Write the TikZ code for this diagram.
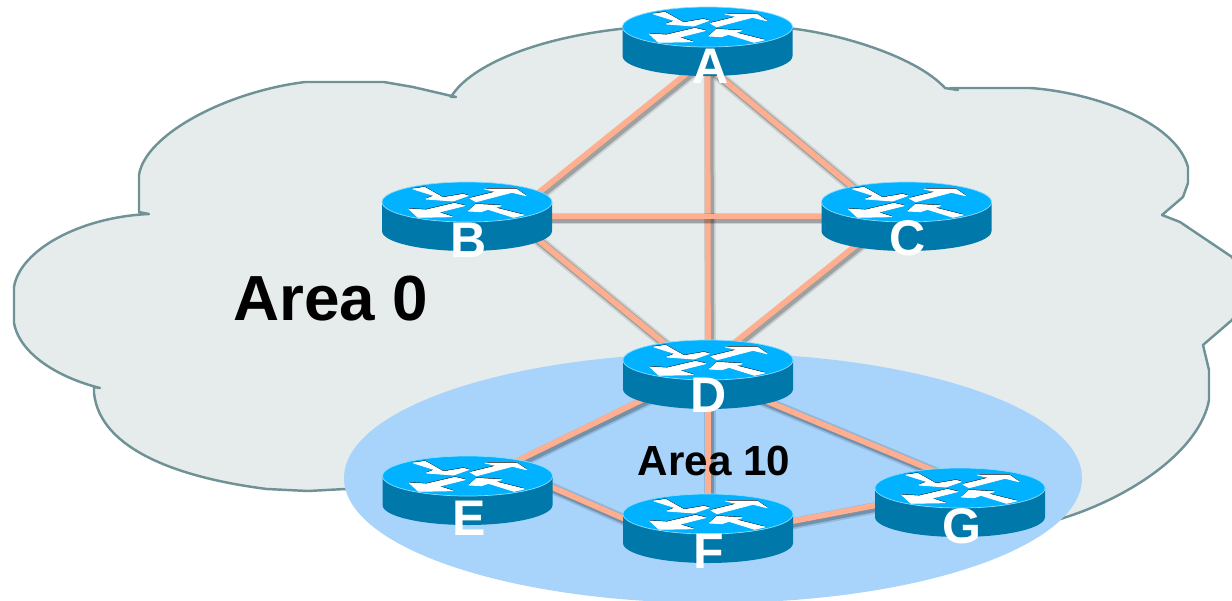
\documentclass[tikz,border=0pt]{standalone}
\usepackage{fontspec}
\setmainfont{Liberation Sans}
\usetikzlibrary{positioning}

\definecolor{cloudfill}{HTML}{E6ECEC}
\definecolor{cloudline}{HTML}{6F9296}
\definecolor{areablue}{HTML}{A8D4FC}
\definecolor{routertopcol}{HTML}{00B2FF}
\definecolor{routerside}{HTML}{0078AA}
\definecolor{linkcol}{HTML}{FFAF8F}

\newcommand{\routerarrows}{
	(-54,-13) -- (-42.5,-14.7) -- (-24,-4.3) -- (-4,-7.7) -- (1,-6.3) -- (-14,-1) -- (-41,-3) -- (-32.5,-6.3) -- cycle
	(3,-3.7) -- (30,-10.3) -- (17.5,-13) -- (49,-13) -- (59,-6.3) -- (45,-9.7) -- (9,-.3) -- cycle
	(-58,7) -- (-41,8) -- (-12.5,1.3) -- (-2.5,3.7) -- (-29,10.3) -- (-15,14.7) -- (-49,15.3) -- cycle
	(1.5,9) -- (9,2.3) -- (34,3.7) -- (27.5,5.7) -- (56.5,13) -- (46.5,15.3) -- (21,7.3) -- (14,9.7) -- cycle
}

\tikzset{
	routerbox/.style={rectangle,minimum width=3.4cm,minimum height=1.38cm,inner sep=0pt},
	routerlabel/.style={text=white,font=\fontsize{28.5}{30}\selectfont\bfseries,inner sep=0pt},
	link/.style={draw=linkcol,line width=3.2pt,shorten <=-16pt,shorten >=-16pt,
		preaction={draw=black,opacity=.12,line width=6.5pt,transform canvas={shift={(1.2pt,-1.2pt)}}},
		preaction={draw=black,opacity=.22,line width=4.5pt,transform canvas={shift={(1.2pt,-1.2pt)}}}},
	routerbody/.pic={
		\begin{scope}[shift={(0,-14.5)}]
			\fill[routerside] (-85,0) -- (-85,29) arc[start angle=180,end angle=0,x radius=85,y radius=20] -- (85,0) -- cycle;
			\draw[fill=routertopcol,draw=routertopcol!45!white,line width=.4pt] (0,0) ellipse [x radius=85,y radius=20];
			\fill[black,shift={(0,-.9)}] \routerarrows;
			\filldraw[white,line width=.5pt,line join=round] \routerarrows;
		\end{scope}
	}
}

\begin{document}
\begin{tikzpicture}[x=.02cm,y=-.02cm]
	\useasboundingbox (0,0) rectangle (1232,600);
	\clip (0,0) rectangle (1232,600);

	%cloud
	\draw[fill=cloudfill,draw=cloudline,line width=1.4pt,line join=round]
		(14,323) -- (14,287)
		.. controls (20,250) and (80,217) .. (149,214)
		-- (139,212) -- (139,175)
		.. controls (145,135) and (225,92) .. (305,82)
		-- (384,82) -- (413,87) -- (456,97) -- (451,97)
		.. controls (470,65) and (540,35) .. (640,27)
		-- (775,27)
		.. controls (830,30) and (915,55) .. (945,88)
		-- (958,90) -- (950,88) -- (1030,88)
		.. controls (1090,92) and (1175,120) .. (1188,167)
		-- (1188,183) -- (1183,197) -- (1162,215) -- (1180,222)
		-- (1232,257) -- (1250,290) -- (1232,320) -- (1203,345)
		-- (1209,370) -- (1209,400)
		.. controls (1200,450) and (1130,500) .. (1050,522)
		-- (345,489) -- (308,491) -- (267,489)
		.. controls (180,478) and (100,450) .. (94,393)
		-- (94,387) -- (100,388)
		.. controls (60,378) and (20,355) .. (14,323) -- cycle;

	%area 10
	\fill[areablue] (713,478) ellipse [x radius=369,y radius=125];

	%routers, body comes after the edges
	\foreach \name/\x/\y in {A/707.5/41.5,B/467/216.5,C/906.5/216.5,D/708/374.5,E/467.5/490.5,F/708/528.5,G/960/502.5}
		\node[routerbox] (\name) at (\x,\y) {};

	%edges
	\draw[link] (A.235) -- (B.north east);
	\draw[link] (A.289) -- (C.150);
	\draw[link] (A.south) -- (D.north);
	\draw[link] (B.east) -- (C.west);
	\draw[link] (B.south east) -- (D.144);
	\draw[link] (C.211) -- (D.49);
	\draw[link] (D.south west) -- (E.30);
	\draw[link] (D.south) -- (F.north);
	\draw[link] (D.336) -- (G.134);
	\draw[link] (E.2) -- (F.173);
	\draw[link] (F.5) -- (G.182);

	\foreach \name in {A,B,C,D,E,F,G}
		\pic at (\name) {routerbody};

	%labels
	\node[routerlabel] (labelA) at (711,66.5) {A};
	\node[routerlabel] (labelB) at (469,240) {B};
	\node[routerlabel] (labelC) at (907.5,238.5) {C};
	\node[routerlabel] (labelD) at (709,395) {D};
	\node[routerlabel] (labelE) at (469,518) {E};
	\node[routerlabel] (labelF) at (709,551) {F};
	\node[routerlabel] (labelG) at (962,526) {G};

	\node[font=\fontsize{36.3}{38}\selectfont\bfseries,inner sep=0pt] (area0) at (331,299) {Area 0};
	\node[font=\fontsize{24}{26}\selectfont\bfseries,inner sep=0pt] (area10) at (714,461) {Area 10};
\end{tikzpicture}
\end{document}
